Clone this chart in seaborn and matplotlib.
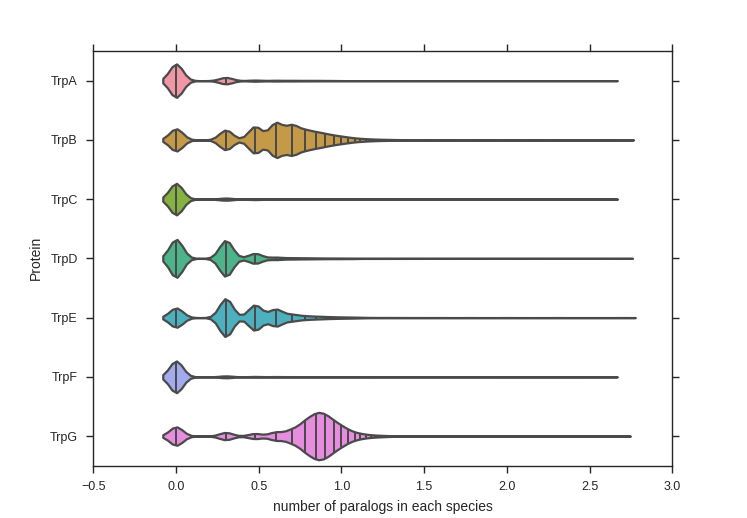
import numpy as np
import pandas as pd
import matplotlib
matplotlib.use("Agg")
import matplotlib.pyplot as plt
import seaborn as sns

# ---- data: number of species having n paralogs (n = 1, 2, 3, ...) ----
proteins = ["TrpA", "TrpB", "TrpC", "TrpD", "TrpE", "TrpF", "TrpG"]

trpA_counts = [507, 98, 18, 12, 9, 6, 6, 3, 3]
trpB_counts = [88, 78, 105, 132, 107, 60, 41, 28, 18, 13, 9, 5, 4, 3, 2, 2, 1, 1, 1, 1]
trpC_counts = [538, 38, 16, 10, 7, 6, 3, 3, 3]
trpD_counts = [314, 297, 83, 20, 10, 7, 5, 3, 3, 2, 2, 2]
trpE_counts = [127, 249, 166, 110, 39, 18, 12, 8, 5, 4, 3, 3, 1, 1, 1]
trpF_counts = [554, 34, 14, 10, 7, 3, 3, 3]
trpG_counts = [104, 41, 29, 45, 65, 129, 174, 145, 78, 58, 23, 17, 9, 6, 4, 3, 2, 2, 1, 1]

# single species with unusually many paralogs
trpA_outliers = [12, 15, 20, 30, 50, 100, 387]
trpB_outliers = [22, 25, 28, 32, 40, 55, 80, 150, 485]
trpC_outliers = [12, 14, 18, 25, 40, 70, 388]
trpD_outliers = [15, 17, 20, 24, 30, 45, 70, 120, 478]
trpE_outliers = [18, 20, 24, 30, 40, 60, 100, 200, 497]
trpF_outliers = [11, 13, 16, 20, 35, 60, 387]
trpG_outliers = [22, 24, 27, 30, 35, 45, 60, 90, 150, 250, 464]

counts = [trpA_counts, trpB_counts, trpC_counts, trpD_counts,
          trpE_counts, trpF_counts, trpG_counts]
outliers = [trpA_outliers, trpB_outliers, trpC_outliers, trpD_outliers,
            trpE_outliers, trpF_outliers, trpG_outliers]

rows = []
for name, cnt, out in zip(proteins, counts, outliers):
    n_paralogs = np.repeat(np.arange(1, len(cnt) + 1), cnt)
    n_paralogs = np.concatenate([n_paralogs, np.array(out)])
    for v in np.log10(n_paralogs):
        rows.append((name, v))
df = pd.DataFrame(rows, columns=["Protein", "value"])

# ---- style ----
sns.set_style("ticks")
plt.rcParams["font.family"] = ["Liberation Sans", "DejaVu Sans"]
plt.rcParams.update({
    "axes.edgecolor": "#262626",
    "axes.linewidth": 1.0,
    "xtick.major.size": 4.8,
    "ytick.major.size": 5.2,
    "xtick.major.width": 1.0,
    "ytick.major.width": 1.0,
    "xtick.major.pad": 6.3,
    "ytick.major.pad": 6.0,
    "xtick.color": "#262626",
    "ytick.color": "#262626",
    "xtick.labelsize": 9,
    "ytick.labelsize": 9,
    "axes.labelsize": 10,
    "axes.labelpad": 5,
    "text.color": "#262626",
    "axes.labelcolor": "#262626",
})

palette = ["#ef97a4", "#c49a48", "#86b242", "#4cb38b",
           "#4cb0be", "#a2abee", "#e68de0"]

BW = 0.04
line_gray = "#4a4a4a"

fig = plt.figure(figsize=(7.47, 5.18), dpi=100)
ax = fig.add_axes([0.1249, 0.101, 0.9 - 0.1249, 0.9015 - 0.101])

sns.violinplot(
    data=df, x="value", y="Protein", hue="Protein", order=proteins,
    hue_order=proteins, palette=palette, saturation=1,
    legend=False, orient="h", inner="stick", density_norm="count",
    common_norm=True, cut=2, gridsize=100,
    bw_method=lambda k: BW / k.dataset.std(ddof=1),
    linecolor=line_gray, linewidth=1.6,
    inner_kws=dict(linewidth=1.1, color=line_gray),
    ax=ax,
)

ax.set_xlim(-0.5, 3.0)
ax.set_xticks([-0.5, 0.0, 0.5, 1.0, 1.5, 2.0, 2.5, 3.0])
ax.set_xlabel("number of paralogs in each species")
ax.set_ylabel("Protein")
ax.tick_params(top=True, right=True, direction="out")
for s in ax.spines.values():
    s.set_visible(True)

fig.savefig("out.png", dpi=100)
